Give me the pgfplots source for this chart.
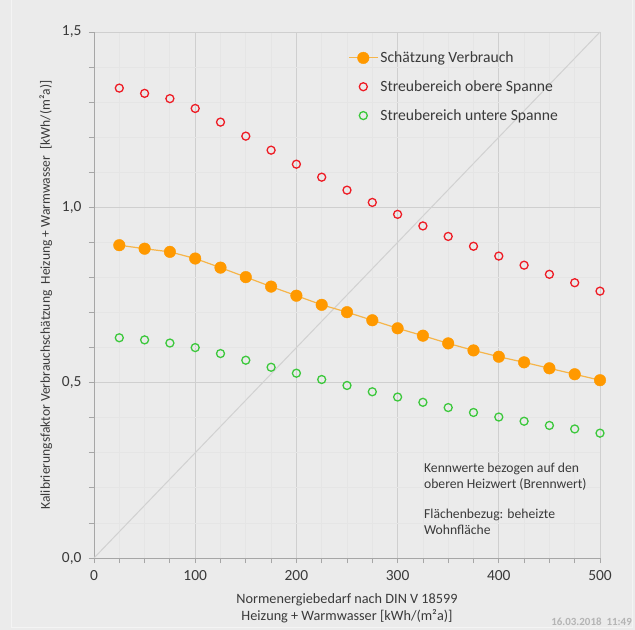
\documentclass[border=0pt]{standalone}
\usepackage{pgfplots}
\pgfplotsset{compat=1.18}
\usepackage{fontspec}
\setmainfont{Carlito}
\definecolor{bgc}{HTML}{EBEBEB}
\definecolor{panelline}{HTML}{F4F4F4}
\definecolor{orangeM}{HTML}{FF9900}
\definecolor{orangeL}{HTML}{F6B54A}
\definecolor{redC}{HTML}{EE1C25}
\definecolor{greenC}{HTML}{3CC83C}
\definecolor{txt}{HTML}{3A3A3A}
\definecolor{stamp}{HTML}{B4B4B4}
\begin{document}
\begin{tikzpicture}
\fill[bgc] (-94bp,-72bp) rectangle (541bp,558bp);
\draw[panelline, line width=1bp] (-82bp,560bp) -- (-82bp,-69bp) -- (538bp,-69bp) -- (538bp,560bp);
\begin{axis}[
  at={(0,0)}, anchor=origin,
  scale only axis, width=506bp, height=526bp,
  xmin=0, xmax=500, ymin=0, ymax=1.5,
  xtick={0,100,...,500}, minor x tick num=3,
  ytick={0,0.5,1,1.5}, minor y tick num=4,
  grid=both,
  major grid style={draw=black!19, line width=0.8bp},
  minor grid style={draw=black!10, line width=0.8bp},
  axis x line*=bottom, axis y line*=left,
  axis line style={draw=black!35, line width=0.8bp, -},
  tick align=outside, major tick length=5bp, minor tick length=5bp,
  tick style={draw=black!35, line width=0.8bp},
  /pgf/number format/assume math mode=true,
  ticklabel style={font=\fontsize{15.5}{17}\selectfont, text=txt},
  y tick label style={/pgf/number format/.cd, fixed, fixed zerofill, precision=1, use comma, /tikz/.cd, xshift=-4bp},
  x tick label style={yshift=-4bp},
  xlabel={Normenergiebedarf nach DIN V 18599\\Heizung + Warmwasser [kWh/(m²a)]},
  xlabel style={at={(axis description cs:0.5,-0.068)}, anchor=north, inner sep=0pt, align=center, font=\fontsize{14.3}{16.5}\selectfont, text=txt},
  ylabel={Kalibrierungsfaktor Verbrauchschätzung\ \ Heizung + Warmwasser\ \ [kWh/(m²a)]},
  ylabel style={at={(axis description cs:-0.095,0.5)}, anchor=center, font=\fontsize{13.6}{15}\selectfont, text=txt},
  legend style={at={(axis cs:251,1.45)}, anchor=north west, draw=none, fill=none,
    font=\fontsize{15.7}{17}\selectfont, text=txt, row sep=12.5bp, inner sep=0pt},
  legend cell align=left,
  legend image code/.code={\draw[mark repeat=2,mark phase=2] plot coordinates {(0bp,0bp)(14.5bp,0bp)(29bp,0bp)};},
  clip=false,
]
\addplot[draw=black!18, line width=1bp, forget plot] coordinates {(0,0) (500,1.5)};
\addplot[color=orangeL, line width=1.2bp, mark=*, mark size=5.8bp, mark options={draw=orangeM, fill=orangeM, line width=0.4bp}] coordinates {
(25,0.892) (50,0.882) (75,0.873) (100,0.854) (125,0.828) (150,0.801) (175,0.774) (200,0.748) (225,0.722) (250,0.701)
(275,0.678) (300,0.655) (325,0.634) (350,0.612) (375,0.592) (400,0.574) (425,0.558) (450,0.541) (475,0.524) (500,0.507)};
\addlegendentry{Schätzung Verbrauch}
\addplot[only marks, mark=o, mark size=4bp, mark options={draw=redC, line width=1.3bp}] coordinates {
(25,1.340) (50,1.325) (75,1.310) (100,1.282) (125,1.243) (150,1.203) (175,1.163) (200,1.123) (225,1.086) (250,1.049)
(275,1.014) (300,0.980) (325,0.947) (350,0.917) (375,0.889) (400,0.861) (425,0.835) (450,0.809) (475,0.785) (500,0.761)};
\addlegendentry{Streubereich obere Spanne}
\addplot[only marks, mark=o, mark size=4bp, mark options={draw=greenC, line width=1.3bp}] coordinates {
(25,0.628) (50,0.622) (75,0.613) (100,0.600) (125,0.583) (150,0.564) (175,0.544) (200,0.527) (225,0.509) (250,0.492)
(275,0.474) (300,0.459) (325,0.444) (350,0.429) (375,0.415) (400,0.402) (425,0.390) (450,0.378) (475,0.368) (500,0.356)};
\addlegendentry{Streubereich untere Spanne}
\node[anchor=north west, align=left, inner sep=0pt, font=\fontsize{13.7}{16}\selectfont, text=txt] at (axis cs:326,0.271)
  {Kennwerte bezogen auf den\\oberen Heizwert (Brennwert)\\[14bp]Flächenbezug: beheizte\\Wohnfläche};
\end{axis}
\node[anchor=base east, inner sep=0pt, font=\bfseries\fontsize{11}{12}\selectfont, text=stamp] at (538bp,-67bp) {16.03.2018\ \ 11:49};
\pgfresetboundingbox
\path (-94bp,-72bp) rectangle (541bp,558bp);
\end{tikzpicture}
\end{document}
